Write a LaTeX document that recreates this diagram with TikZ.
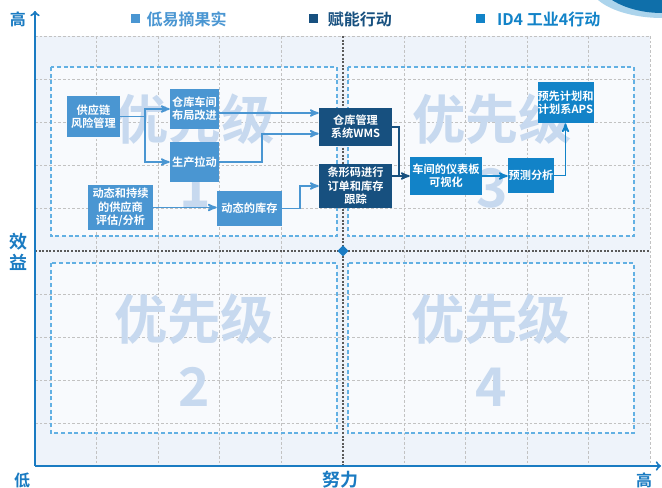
\documentclass[tikz,border=0pt]{standalone}
\usepackage{fontspec}
\setmainfont{Noto Sans CJK SC}[BoldFont={* Bold}]
\usepackage{xcolor}
\usetikzlibrary{arrows, positioning}

\definecolor{lowfruit}{HTML}{4A96D2}
\definecolor{enabler}{HTML}{17507F}
\definecolor{idfour}{HTML}{1283C8}
\definecolor{axisblue}{HTML}{1A7BC2}
\definecolor{markcol}{HTML}{C7D9EF}
\definecolor{gridbg}{HTML}{EEF3FA}
\definecolor{quadbg}{HTML}{F8FAFD}
\definecolor{quadline}{HTML}{62B0E3}
\definecolor{gridgray}{HTML}{C2C2C2}
\definecolor{centergray}{HTML}{5A5A5A}

\begin{document}
\begin{tikzpicture}[x=0.75pt, y=-0.75pt,
				>=stealth',
				box/.style={inner sep=0pt, align=center, text=white, font=\fontsize{8.4}{10}\selectfont\bfseries},
				lowbox/.style={box, fill=lowfruit},
				enablebox/.style={box, fill=enabler},
				idbox/.style={box, fill=idfour},
				watermark/.style={text=markcol, inner sep=0pt, font=\fontsize{40}{48}\selectfont\bfseries},
				legend/.style={inner sep=0pt, font=\fontsize{12}{14}\selectfont\bfseries},
				axislabel/.style={text=axisblue, inner sep=0pt, align=center, font=\fontsize{12}{15.75}\selectfont\bfseries},
				gridline/.style={draw=gridgray, line width=0.6pt, dash pattern=on 2pt off 1.5pt},
				quadbox/.style={draw=quadline, line width=0.8pt, dash pattern=on 3pt off 2pt},
				centerline/.style={draw=centergray, line width=0.9pt, dash pattern=on 1.5pt off 1.2pt},
				lowarrow/.style={->, draw=lowfruit, line width=1.3pt},
				enablearrow/.style={->, draw=enabler, line width=1.3pt},
				idarrow/.style={->, draw=idfour, line width=1.3pt}]
				\useasboundingbox (0,0) rectangle (662,488);
				\fill[white] (0,0) rectangle (662,488);
				% corner swoosh
				\fill[idfour!35] (598,0) .. controls (612,12) and (638,18) .. (662,18) -- (662,0) -- cycle;
				\fill[idfour!85!black] (612,0) .. controls (626,9) and (645,13) .. (662,13) -- (662,0) -- cycle;
				% chart area and quadrants
				\fill[gridbg] (35,36) rectangle (650,466);
				\fill[quadbg] (51,67) rectangle (337,236);
				\fill[quadbg] (348,67) rectangle (634,236);
				\fill[quadbg] (51,263) rectangle (337,433);
				\fill[quadbg] (348,263) rectangle (634,433);
				\foreach \i in {1,2,3,4,6,7,8,9,10}
					\draw[gridline] ({35+61.5*\i},36) -- ({35+61.5*\i},466);
				\foreach \j in {0,1,2,3,4,6,7,8,9}
					\draw[gridline] (35,{36+43*\j}) -- (650,{36+43*\j});
				\draw[quadbox] (51,67) rectangle (337,236);
				\draw[quadbox] (348,67) rectangle (634,236);
				\draw[quadbox] (51,263) rectangle (337,433);
				\draw[quadbox] (348,263) rectangle (634,433);
				\draw[centerline] (343,36) -- (343,466);
				\draw[centerline] (35,251) -- (650,251);
				\fill[axisblue] (343,245.5) -- (348.5,251) -- (343,256.5) -- (337.5,251) -- cycle;
				% watermarks
				\node at (195,119) (wmup1) [watermark] {优先级};
				\node at (195,188) (wmnum1) [watermark] {1};
				\node at (492,119) (wmup3) [watermark] {优先级};
				\node at (492,188) (wmnum3) [watermark] {3};
				\node at (194,319) (wmlow2) [watermark] {优先级};
				\node at (194,387) (wmnum2) [watermark] {2};
				\node at (491,319) (wmlow4) [watermark] {优先级};
				\node at (491,387) (wmnum4) [watermark] {4};
				% axes
				\coordinate (origin) at (35,466);
				\coordinate (ytop) at (35,11);
				\coordinate (xend) at (661,466);
				\draw[axisblue, line width=1.5pt, -to] (origin) -- (ytop);
				\draw[axisblue, line width=1.5pt, -to] (origin) -- (xend);
				\node at (18,19) (yhigh) [axislabel] {高};
				\node at (18,251.5) (ylabel) [axislabel, font=\fontsize{13.5}{15.75}\selectfont\bfseries] {效\\益};
				\node at (22,480) (xlow) [axislabel] {低};
				\node at (340,480) (xlabel) [axislabel, font=\fontsize{13.5}{15.75}\selectfont\bfseries] {努力};
				\node at (644,480) (xhigh) [axislabel] {高};
				% legend
				\node at (135,19) (sqlow) [fill=lowfruit, minimum size=6.75pt, inner sep=0pt] {};
				\node [right=5pt of sqlow, legend, text=lowfruit] (txtlow) {低易摘果实};
				\node at (313.5,19) (sqenable) [fill=enabler, minimum size=6.75pt, inner sep=0pt] {};
				\node [right=7pt of sqenable, legend, text=enabler] (txtenable) {赋能行动};
				\node at (480,19) (sqid) [fill=idfour, minimum size=6.75pt, inner sep=0pt] {};
				\node [right=9pt of sqid, legend, text=idfour] (txtid) {ID4 工业4行动};
				% actions
				\node at (93.5,116.5) (risk) [lowbox, minimum width=39.75pt, minimum height=30.75pt] {供应链\\风险管理};
				\node at (194.5,109) (layout) [lowbox, minimum width=36.75pt, minimum height=30pt] {仓库车间\\布局改进};
				\node at (194.5,162) (pull) [lowbox, minimum width=36.75pt, minimum height=30pt] {生产拉动};
				\node at (120.5,207.5) (supplier) [lowbox, minimum width=48.75pt, minimum height=33.75pt] {动态和持续\\的供应商\\评估/分析};
				\node at (249.5,208.5) (stock) [lowbox, minimum width=48.75pt, minimum height=26.25pt] {动态的库存};
				\node at (355.5,127) (wms) [enablebox, minimum width=54.75pt, minimum height=28.5pt] {仓库管理\\系统WMS};
				\node at (355.5,186) (barcode) [enablebox, minimum width=54.75pt, minimum height=33pt] {条形码进行\\订单和库存\\跟踪};
				\node at (446,176) (dashboard) [idbox, minimum width=54pt, minimum height=28.5pt] {车间的仪表板\\可视化};
				\node at (531,175.5) (forecast) [idbox, minimum width=34.5pt, minimum height=26.25pt] {预测分析};
				\node at (565.5,102.5) (aps) [idbox, minimum width=41.25pt, minimum height=30.75pt] {预先计划和\\计划系APS};
				% links
				\draw[lowarrow] (risk.east) -- ++(25,0) |- (layout.west);
				\draw[lowarrow] (risk.east) -- ++(25,0) |- (pull.west);
				\coordinate (layoutout) at ([yshift=-3pt]layout.east);
				\draw[lowarrow] (layoutout) -- (layoutout -| wms.west);
				\draw[lowarrow] (pull.east) -- ++(43,0) |- ([yshift=-5pt]wms.west);
				\draw[lowarrow] (supplier.east) -- (supplier.east -| stock.west);
				\draw[lowarrow] (stock.east) -- ++(18,0) |- (barcode.west);
				\draw[enablearrow] (wms.east) -- ++(7,0) |- (dashboard.west);
				\draw[enabler, line width=1.3pt] (barcode.east |- dashboard.west) -- ++(8,0);
				\draw[idarrow] (dashboard.east) -- (dashboard.east -| forecast.west);
				\draw[idarrow] (forecast.east) -| (aps.south);
			\end{tikzpicture}
\end{document}
